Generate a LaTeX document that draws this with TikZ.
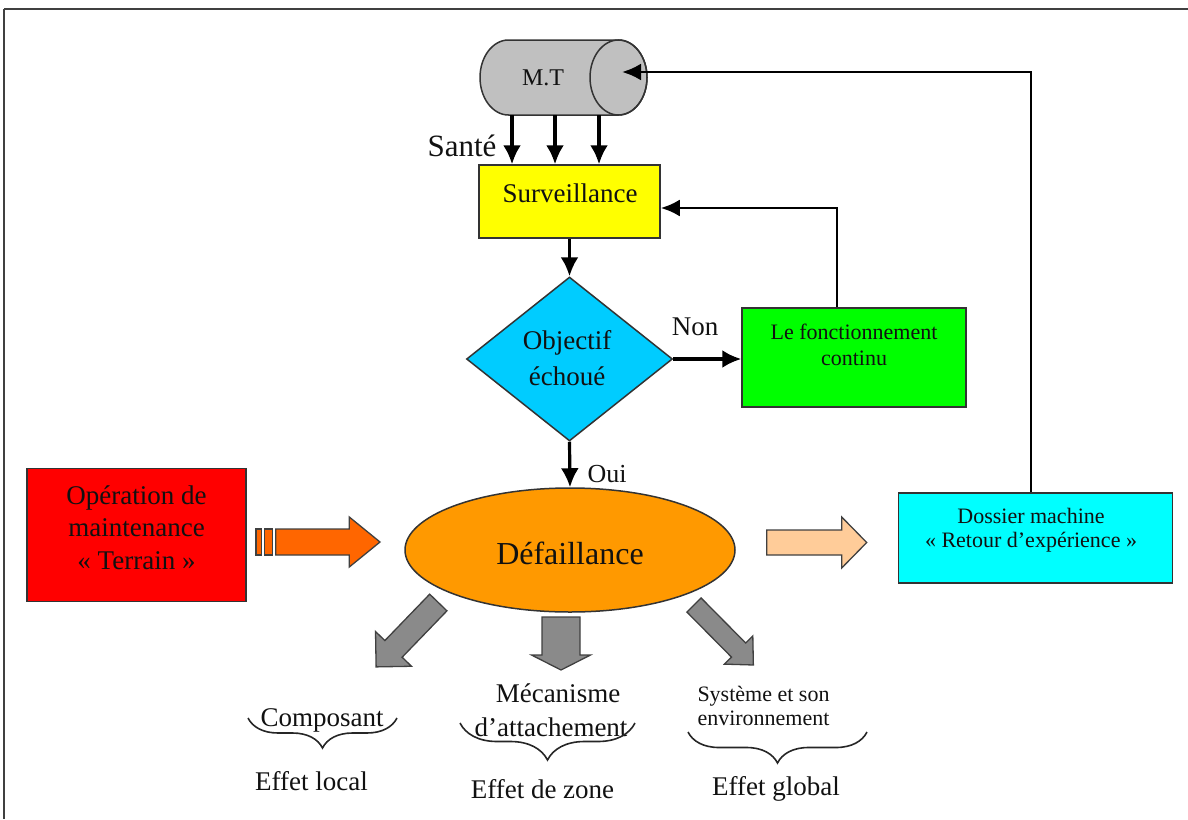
\documentclass[tikz,border=0pt]{standalone}
\usepackage{fontspec}
\setmainfont{Liberation Serif}
\usetikzlibrary{arrows.meta,shapes.geometric,decorations.pathreplacing,calc}
\newcommand\fsz[2]{\fontsize{#1}{#2}\selectfont}
\definecolor{cylgray}{HTML}{C0C0C0}
\definecolor{diamblue}{HTML}{00CCFF}
\definecolor{defor}{HTML}{FF9900}
\definecolor{orarrow}{HTML}{FF6600}
\definecolor{peach}{HTML}{FFCC99}
\definecolor{arrgray}{HTML}{8A8A8A}
\definecolor{ink}{HTML}{111111}
\definecolor{boxyellow}{HTML}{FFFF00}
\definecolor{boxgreen}{HTML}{00FF00}
\definecolor{boxred}{HTML}{FF0000}
\definecolor{boxcyan}{HTML}{00FFFF}
\begin{document}
\begin{tikzpicture}[x=1pt,y=-1pt,
  box/.style={draw=black!80,line width=1.5pt,inner sep=0pt},
  conn/.style={line width=3.2pt,-{Latex[length=19pt,width=18pt]}},
  fb/.style={line width=2.8pt,-{Latex[length=19pt,width=17pt]}},
  blockarrow/.style={draw=black!75,line width=1.3pt,line join=miter},
  brc/.style={decorate,decoration={brace,mirror,amplitude=#1},line width=1.6pt,draw=black!85},
  lbl/.style={inner sep=0pt,align=center,text=ink},
]
\useasboundingbox (0,0) rectangle (1188,819);
% frame
\draw[line width=2.5pt,black!75] (4,9) -- (1188,9);
\draw[line width=1.6pt,black!75] (4,9) -- (4,819);

% cylinder M.T
\draw[fill=cylgray,draw=black!80,line width=1.5pt]
  (508.5,40) -- (618.5,40) arc[start angle=-90,end angle=90,x radius=28.5,y radius=37.5]
  -- (508.5,115) arc[start angle=90,end angle=270,x radius=28.5,y radius=37.5] -- cycle;
\draw[draw=black!80,line width=1.5pt] (618.5,77.5) ellipse[x radius=28.5,y radius=37.5];
\node[lbl,font=\fsz{24}{24}] (mt) at (543,78) {M.T};
\coordinate (mtface) at (622,72);
\coordinate (mtb1) at (512,115);
\coordinate (mtb2) at (555,115);
\coordinate (mtb3) at (599,115);

% boxes
\node[box,fill=boxyellow,minimum width=181,minimum height=73] (surv) at (569.5,201.5) {};
\node[lbl,font=\fsz{27}{27}] (survtxt) at (570,193) {Surveillance};

\node[diamond,draw=black!80,line width=1.5pt,fill=diamblue,minimum width=206,minimum height=164,inner sep=0pt] (obj) at (569.5,359) {};
\node[lbl,font=\fsz{27}{36}] (objtxt) at (567,358) {Objectif\\échoué};

\node[box,fill=boxgreen,minimum width=224,minimum height=99] (cont) at (854,357.5) {};
\node[lbl,font=\fsz{22}{26}] (conttxt) at (854,345) {Le fonctionnement\\continu};

\node[ellipse,draw=black!80,line width=1.5pt,fill=defor,minimum width=330,minimum height=124,inner sep=0pt] (def) at (570,550) {};
\node[lbl,font=\fsz{32}{32}] (deftxt) at (570,553) {Défaillance};

\node[box,fill=boxred,minimum width=219,minimum height=133] (oper) at (136.3,535) {};
\node[lbl,font=\fsz{27}{32.5}] (opertxt) at (136.5,527.5) {Opération de\\maintenance\\« Terrain »};

\node[box,fill=boxcyan,minimum width=274,minimum height=90] (doss) at (1035.5,538) {};
\node[lbl,font=\fsz{22}{24}] (dosstxt) at (1031,530) {Dossier machine\\« Retour d’expérience »};

% labels
\node[lbl,font=\fsz{31}{31}] (sante) at (462,146) {Santé};
\node[lbl,font=\fsz{27}{27}] (non) at (695,327) {Non};
\node[lbl,font=\fsz{26}{26}] (oui) at (607,474) {Oui};

% connectors
\draw[conn] (mtb1) -- (mtb1 |- surv.north);
\draw[conn] (mtb2) -- (mtb2 |- surv.north);
\draw[conn] (mtb3) -- (mtb3 |- surv.north);
\draw[conn] (surv.south) -- (obj.north);
\draw[conn] (obj.east) -- (obj.east -| cont.west);
\draw[conn] (obj.south) -- (def.north);
\coordinate (fbc) at (837,208);
\draw[fb] (cont.north -| fbc) |- (surv.east |- fbc);
\coordinate (retc) at (1031,72);
\draw[fb] (doss.north -| retc) |- (mtface);

% block arrows
\draw[blockarrow,fill=orarrow] (275.7,529) -- (349.3,529) -- (349.3,517) -- (380,542) -- (349.3,567) -- (349.3,555) -- (275.7,555) -- cycle;
\draw[blockarrow,fill=orarrow] (256,529) rectangle (261.7,555);
\draw[blockarrow,fill=orarrow] (264.3,529) rectangle (272.7,555);
\draw[blockarrow,fill=peach] (766.7,530) -- (841.7,530) -- (841.7,517) -- (866.7,542.5) -- (841.7,568) -- (841.7,555) -- (766.7,555) -- cycle;

\begin{scope}[shift={(561,617)},rotate=-90]
\draw[blockarrow,fill=arrgray] (0,-19) -- (38,-19) -- (38,-29.5) -- (53,0) -- (38,29.5) -- (38,19) -- (0,19) -- cycle;
\end{scope}
\begin{scope}[shift={(438.3,602.5)},rotate=226]
\draw[blockarrow,fill=arrgray] (0,-12) -- (64.5,-12) -- (64.5,-25) -- (89.5,0) -- (64.5,25) -- (64.5,12) -- (0,12) -- cycle;
\end{scope}
\begin{scope}[shift={(694,605)},rotate=-45.3]
\draw[blockarrow,fill=arrgray] (0,-10) -- (63.4,-10) -- (63.4,-20) -- (84.4,0) -- (63.4,20) -- (63.4,10) -- (0,10) -- cycle;
\end{scope}

% bottom texts and braces
\node[lbl,font=\fsz{27}{27}] (comp) at (322,720) {Composant};
\draw[brc=30] (248,718) -- (397,718);
\node[lbl,font=\fsz{27}{27}] (local) at (311.5,781) {Effet local};

\node[lbl,font=\fsz{27}{34}] (meca) at (551,710) {\hspace*{14pt}Mécanisme\\d’attachement};
\draw[brc=37] (460,723) -- (635,723);
\node[lbl,font=\fsz{27}{27}] (zone) at (542.5,789) {Effet de zone};

\node[lbl,font=\fsz{22}{24},align=left] (sys) at (763.5,706) {Système et son\\environnement};
\draw[brc=31] (688,732) -- (867,732);
\node[lbl,font=\fsz{27}{27}] (global) at (776,789) {Effet global};
\end{tikzpicture}
\end{document}
